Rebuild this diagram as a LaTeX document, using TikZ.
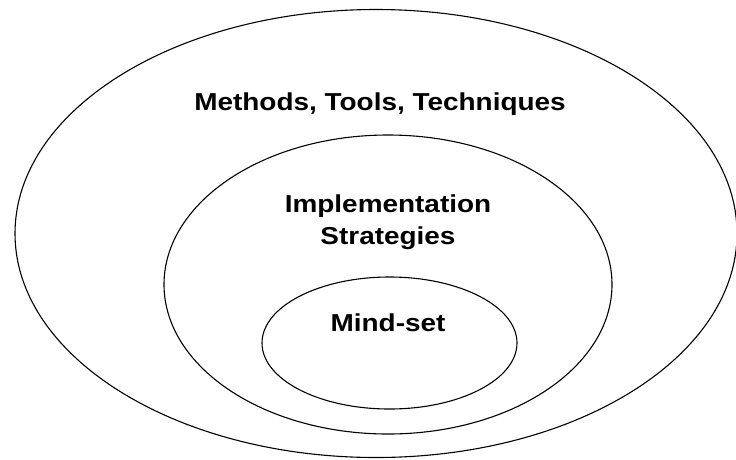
\documentclass[tikz,border=0pt]{standalone}
\usepackage{fontspec}
\setmainfont{Liberation Sans}
\usetikzlibrary{shapes.geometric}
\begin{document}
\begin{tikzpicture}[x=1pt,y=-1pt,
  ring/.style={draw=black,line width=1.1pt,ellipse,inner sep=0pt},
  lbl/.style={font=\fontsize{24.5}{32}\selectfont\bfseries,align=center,xscale=1.14,transform shape,inner sep=0pt,anchor=base}]
\useasboundingbox (0,0) rectangle (736,459);
\node[ring,minimum width=722,minimum height=448] (outer) at (376,233.5) {};
\node[ring,minimum width=448,minimum height=299] (middle) at (388,284.5) {};
\node[ring,minimum width=255,minimum height=132] (inner) at (389.5,343) {};
\node[lbl] (mtt) at (380,110) {Methods, Tools, Techniques};
\node[lbl] (impl) at (388,244) {Implementation\\Strategies};
\node[lbl] (mind) at (388,331) {Mind-set};
\end{tikzpicture}
\end{document}
